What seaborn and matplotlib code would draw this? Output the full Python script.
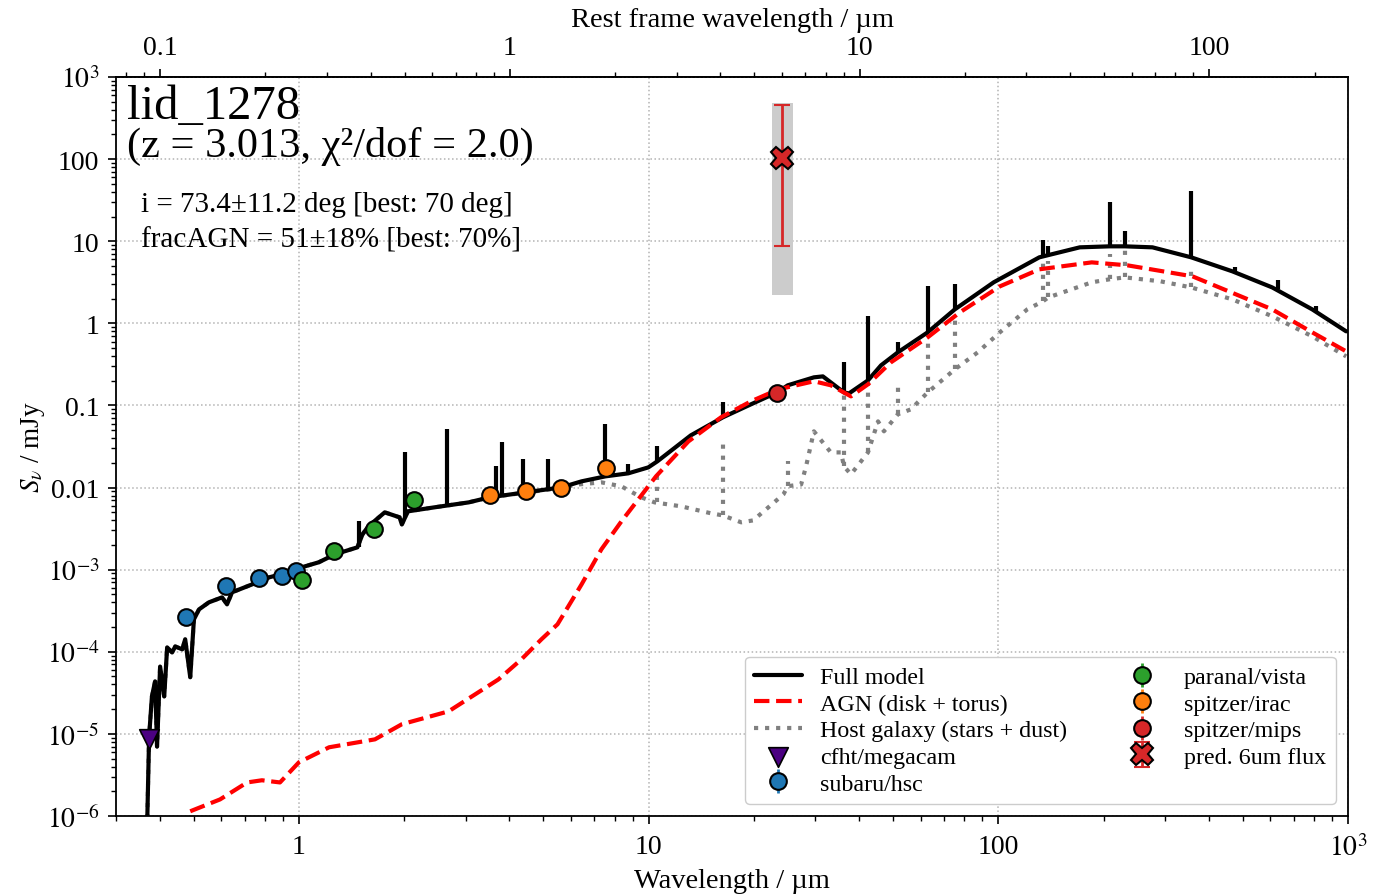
import numpy as np
import matplotlib
matplotlib.use("Agg")
import matplotlib.pyplot as plt
import seaborn as sns
from matplotlib.lines import Line2D
from matplotlib.ticker import FuncFormatter, LogLocator, NullFormatter

# ---------------- data ----------------
z = 3.013
title_name = "lid_1278"
title_info = "(z = 3.013, χ²/dof = 2.0)"
param_lines = ["i = 73.4±11.2 deg [best: 70 deg]", "fracAGN = 51±18% [best: 70%]"]

# full model continuum (observed wavelength um, flux mJy)
full_x = [0.368, 0.373, 0.380, 0.388, 0.393, 0.401, 0.412, 0.420, 0.434, 0.443,
          0.464, 0.473, 0.489, 0.501, 0.518, 0.553, 0.603, 0.623, 0.644, 0.734,
          0.821, 0.936, 1.02, 1.14, 1.27, 1.47, 1.52, 1.58, 1.76, 1.94,
          1.97, 2.05, 2.44, 3.06, 3.51, 5.63, 6.43, 7.52, 8.75, 9.98,
          10.6, 13.2, 16.3, 19.6, 23.3, 25.0, 29.7, 31.5, 36.2, 37.4,
          42.4, 46.2, 51.6, 62.8, 75.1, 97.0, 131, 171, 208, 230,
          276, 356, 467, 607, 790, 988]
full_y = [6.9e-7, 9.3e-6, 2.86e-5, 4.36e-5, 7.0e-6, 6.6e-5, 2.86e-5, 1.13e-4, 9.8e-5, 1.16e-4,
          1.07e-4, 1.42e-4, 4.9e-5, 2.48e-4, 3.28e-4, 4.0e-4, 4.6e-4, 3.78e-4, 5.3e-4, 6.6e-4,
          8.05e-4, 9.3e-4, 1.07e-3, 1.23e-3, 1.54e-3, 1.87e-3, 2.69e-3, 3.37e-3, 4.99e-3, 4.34e-3,
          3.56e-3, 5.13e-3, 5.74e-3, 6.6e-3, 7.6e-3, 0.01005, 0.0119, 0.01368, 0.0149, 0.0176,
          0.0209, 0.0432, 0.0716, 0.103, 0.144, 0.176, 0.220, 0.226, 0.144, 0.140,
          0.202, 0.308, 0.443, 0.777, 1.48, 3.16, 6.37, 8.43, 8.67, 8.67,
          8.43, 6.37, 4.30, 2.74, 1.48, 0.799]
# emission lines of full model
full_line_x = [1.49, 2.01, 2.65, 3.65, 3.82, 4.36, 5.17, 7.52, 8.75, 10.6, 16.3,
               36.2, 42.4, 51.6, 62.8, 75.1, 134, 139, 208, 230, 356, 476, 631, 811]
full_line_base = [1.9e-3, 4.3e-3, 6.0e-3, 7.8e-3, 8.0e-3, 8.7e-3, 9.5e-3, 0.0137, 0.0149, 0.0209, 0.0716,
                  0.144, 0.202, 0.443, 0.777, 1.48, 6.55, 6.7, 8.67, 8.67, 6.37, 4.2, 2.65, 1.43]
full_line_top = [3.87e-3, 0.0268, 0.0512, 0.0181, 0.0355, 0.0221, 0.0221, 0.0589, 0.0192, 0.0318, 0.109,
                 0.335, 1.22, 0.587, 2.82, 2.99, 10.5, 8.67, 29.8, 13.2, 40.5, 4.81, 3.34, 1.61]

# AGN (disk + torus)
agn_x = [0.489, 0.595, 0.711, 0.784, 0.883, 1.0, 1.22, 1.65, 1.97, 2.68,
         3.72, 4.33, 4.94, 5.49, 6.43, 7.33, 8.36, 9.53, 10.5, 13.0,
         16.1, 19.6, 23.5, 29.7, 33.2, 37.9, 42.4, 49.3, 62.8, 77.6,
         101, 131, 185, 234, 359, 607, 790, 1000]
agn_y = [1.14e-6, 1.59e-6, 2.56e-6, 2.72e-6, 2.56e-6, 4.5e-6, 6.86e-6, 8.57e-6, 1.31e-5, 1.88e-5,
         4.6e-5, 8.1e-5, 1.42e-4, 2.16e-4, 6.6e-4, 1.77e-3, 3.87e-3, 8.0e-3, 0.0137, 0.0365,
         0.0716, 0.112, 0.157, 0.197, 0.176, 0.129, 0.181, 0.335, 0.675, 1.36,
         2.82, 4.55, 5.53, 5.09, 3.74, 1.48, 0.777, 0.443]

# Host galaxy (stars + dust)
host_x = [0.368, 0.373, 0.380, 0.388, 0.393, 0.401, 0.412, 0.420, 0.434, 0.443,
          0.464, 0.473, 0.489, 0.501, 0.518, 0.553, 0.603, 0.623, 0.644, 0.734,
          0.821, 0.936, 1.02, 1.14, 1.27, 1.47, 1.52, 1.58, 1.76, 1.94,
          1.97, 2.05, 2.44, 3.06, 3.51, 5.63, 6.28, 7.33, 8.36, 9.53,
          10.4, 12.4, 15.1, 16.3, 18.4, 19.9, 22.0, 24.3, 25.0, 27.3,
          28.2, 29.7, 33.2, 35.5, 36.2, 37.9, 42.4, 45.3, 47.1, 51.6,
          56.2, 62.8, 75.1, 87.3, 101, 121, 134, 139, 185, 208,
          230, 291, 356, 467, 607, 790, 988]
host_y = [6.9e-7, 9.3e-6, 2.86e-5, 4.36e-5, 7.0e-6, 6.6e-5, 2.86e-5, 1.13e-4, 9.8e-5, 1.16e-4,
          1.07e-4, 1.42e-4, 4.9e-5, 2.48e-4, 3.28e-4, 4.0e-4, 4.6e-4, 3.78e-4, 5.3e-4, 6.6e-4,
          8.05e-4, 9.3e-4, 1.07e-3, 1.23e-3, 1.54e-3, 1.87e-3, 2.69e-3, 3.37e-3, 4.99e-3, 4.34e-3,
          3.56e-3, 5.13e-3, 5.74e-3, 6.6e-3, 7.6e-3, 0.0099, 0.0109, 0.01157, 0.01035, 7.6e-3,
          6.6e-3, 5.9e-3, 4.85e-3, 4.58e-3, 3.77e-3, 3.98e-3, 5.74e-3, 8.26e-3, 0.0104, 0.0109,
          0.0181, 0.0484, 0.0268, 0.0268, 0.0181, 0.0145, 0.0268, 0.064, 0.0484, 0.078,
          0.0896, 0.144, 0.275, 0.443, 0.777, 1.48, 1.85, 2.07, 3.16, 3.44,
          3.63, 3.25, 2.74, 1.96, 1.22, 0.695, 0.396]
host_line_x = [10.6, 16.3, 25.0, 36.2, 42.4, 51.6, 62.8, 75.1, 134, 139, 208, 230, 356]
host_line_base = [6.6e-3, 4.58e-3, 0.0104, 0.0181, 0.0268, 0.078, 0.144, 0.275, 1.85, 2.07, 3.44, 3.63, 2.74]
host_line_top = [0.0157, 0.0355, 0.0209, 0.144, 0.191, 0.197, 0.735, 1.18, 6.37, 5.69, 6.92, 8.43, 4.95]

# photometry
cfht_x, cfht_y = [0.373], [8.6e-6]
hsc_x = [0.476, 0.619, 0.769, 0.894, 0.980]
hsc_y = [2.62e-4, 6.26e-4, 7.83e-4, 8.29e-4, 9.5e-4]
hsc_err = [1.3e-5, 3.1e-5, 3.9e-5, 4.1e-5, 4.8e-5]
vista_x = [1.02, 1.26, 1.64, 2.14]
vista_y = [7.4e-4, 1.68e-3, 3.1e-3, 7.0e-3]
vista_err = [3.7e-5, 8.4e-5, 1.6e-4, 3.5e-4]
irac_x = [3.51, 4.45, 5.63, 7.57]
irac_y = [8.1e-3, 9.0e-3, 9.8e-3, 0.0171]
irac_err = [4.0e-4, 4.5e-4, 4.9e-4, 8.5e-4]
mips_x, mips_y, mips_err = [23.3], [0.140], [0.007]
pred_x, pred_y = [24.1], [102]
pred_err_lo, pred_err_hi = [93.3], [350]
band_x = [22.5, 25.9]
band_lo, band_hi = 2.2, 478

# ---------------- style ----------------
sns.set_theme(style="ticks", rc={
    "axes.edgecolor": "black", "axes.linewidth": 1.3,
    "text.color": "black", "axes.labelcolor": "black",
    "xtick.color": "black", "ytick.color": "black",
    "xtick.direction": "out", "ytick.direction": "out",
    "xtick.major.size": 6, "ytick.major.size": 6,
    "xtick.minor.size": 3.5, "ytick.minor.size": 3.5,
    "xtick.major.width": 1.2, "ytick.major.width": 1.2,
    "xtick.minor.width": 1.0, "ytick.minor.width": 1.0,
})
plt.rcParams['font.family'] = ['Liberation Serif', 'DejaVu Serif']
plt.rcParams['mathtext.fontset'] = 'stix'

fig = plt.figure(figsize=(13.83, 8.95), dpi=100)
ax = fig.add_axes([0.0839, 0.0872, 0.8908, 0.8256])
ax.set_xscale('log')
ax.set_yscale('log')
ax.set_xlim(0.3, 1000)
ax.set_ylim(1e-6, 1e3)

ax.grid(True, which='major', ls=':', color='0.7', lw=1.1, zorder=0)
ax.set_axisbelow(True)

# models
sns.lineplot(x=host_x, y=host_y, ax=ax, color='gray', lw=3, ls=':', sort=False,
             estimator=None, zorder=2, legend=False)
ax.vlines(host_line_x, host_line_base, host_line_top, colors='gray', lw=3,
          linestyles=':', zorder=2)
sns.lineplot(x=full_x, y=full_y, ax=ax, color='black', lw=3, sort=False,
             estimator=None, zorder=3, legend=False)
ax.vlines(full_line_x, full_line_base, full_line_top, colors='black', lw=3, zorder=3)
sns.lineplot(x=agn_x, y=agn_y, ax=ax, color='red', lw=3, ls='--', sort=False,
             estimator=None, zorder=4, legend=False)

# predicted 6um flux band + point
ax.fill_between(band_x, band_lo, band_hi, color='0.8', lw=0, zorder=1.5)

cfht_h = ax.scatter(cfht_x, cfht_y, marker='v', s=200, color='#4b0082',
                    edgecolor='black', linewidth=1.2, zorder=6)
ekw = dict(fmt='o', mec='black', mew=1.5, ms=12, elinewidth=2, zorder=6)
hsc_h = ax.errorbar(hsc_x, hsc_y, yerr=hsc_err, color='#1f77b4', **ekw)
vista_h = ax.errorbar(vista_x, vista_y, yerr=vista_err, color='#2ca02c', **ekw)
irac_h = ax.errorbar(irac_x, irac_y, yerr=irac_err, color='#ff7f0e', **ekw)
mips_h = ax.errorbar(mips_x, mips_y, yerr=mips_err, color='#d62728', **ekw)
pred_h = ax.errorbar(pred_x, pred_y, yerr=[pred_err_lo, pred_err_hi], fmt='X',
                     color='#d62728', mec='black', mew=1.5, ms=16, elinewidth=2,
                     capsize=6, capthick=2, zorder=7)

# axes formatting
def log_fmt(v, pos):
    if v <= 0:
        return ''
    e = np.log10(v)
    ei = int(round(e))
    if abs(e - ei) > 1e-6:
        return ''
    if -2 <= ei <= 2:
        return f'{v:g}'
    return f'$10^{{{ei}}}$'

ax.xaxis.set_major_locator(LogLocator(base=10, numticks=20))
ax.xaxis.set_minor_locator(LogLocator(base=10, subs=np.arange(2, 10), numticks=50))
ax.yaxis.set_major_locator(LogLocator(base=10, numticks=20))
ax.yaxis.set_minor_locator(LogLocator(base=10, subs=np.arange(2, 10), numticks=50))
ax.xaxis.set_major_formatter(FuncFormatter(log_fmt))
ax.yaxis.set_major_formatter(FuncFormatter(log_fmt))
ax.xaxis.set_minor_formatter(NullFormatter())
ax.yaxis.set_minor_formatter(NullFormatter())
ax.tick_params(axis='both', which='major', labelsize=20)
ax.tick_params(axis='x', which='major', pad=7)
ax.tick_params(axis='y', which='major', pad=6)
ax.tick_params(top=False, right=False, which='both')

ax.set_xlabel('Wavelength / µm', fontsize=20.5, labelpad=5)
ax.set_ylabel(r'$S_\nu$ / mJy', fontsize=19.5, labelpad=0)

sec = ax.secondary_xaxis('top', functions=(lambda x: x / (1 + z), lambda x: x * (1 + z)))
sec.xaxis.set_major_locator(LogLocator(base=10, numticks=20))
sec.xaxis.set_minor_locator(LogLocator(base=10, subs=np.arange(2, 10), numticks=50))
sec.xaxis.set_major_formatter(FuncFormatter(log_fmt))
sec.xaxis.set_minor_formatter(NullFormatter())
sec.tick_params(axis='x', which='major', labelsize=20, pad=6)
sec.set_xlabel('Rest frame wavelength / µm', fontsize=20.5, labelpad=7)

# texts
ax.text(0.009, 0.944, title_name, transform=ax.transAxes, fontsize=35, va='baseline')
ax.text(0.009, 0.893, title_info, transform=ax.transAxes, fontsize=30.5, va='baseline')
ax.text(0.020, 0.819, param_lines[0], transform=ax.transAxes, fontsize=21, va='baseline')
ax.text(0.020, 0.770, param_lines[1], transform=ax.transAxes, fontsize=21, va='baseline')

# legend
h_full = Line2D([], [], color='black', lw=3)
h_agn = Line2D([], [], color='red', lw=3, ls='--')
h_host = Line2D([], [], color='gray', lw=3, ls=':')
handles = [h_full, h_agn, h_host, cfht_h, hsc_h, vista_h, irac_h, mips_h, pred_h]
labels = ['Full model', 'AGN (disk + torus)', 'Host galaxy (stars + dust)',
          'cfht/megacam', 'subaru/hsc', 'paranal/vista', 'spitzer/irac',
          'spitzer/mips', 'pred. 6um flux']
leg = ax.legend(handles, labels, ncol=2, loc='lower right', bbox_to_anchor=(0.99, 0.016),
                borderaxespad=0, fontsize=17.3, frameon=True, fancybox=True,
                edgecolor='0.8', framealpha=1, labelspacing=0.2, columnspacing=2.1,
                handlelength=2.0, handletextpad=0.75)
leg.set_zorder(10)

fig.savefig('out.png', dpi=100)
